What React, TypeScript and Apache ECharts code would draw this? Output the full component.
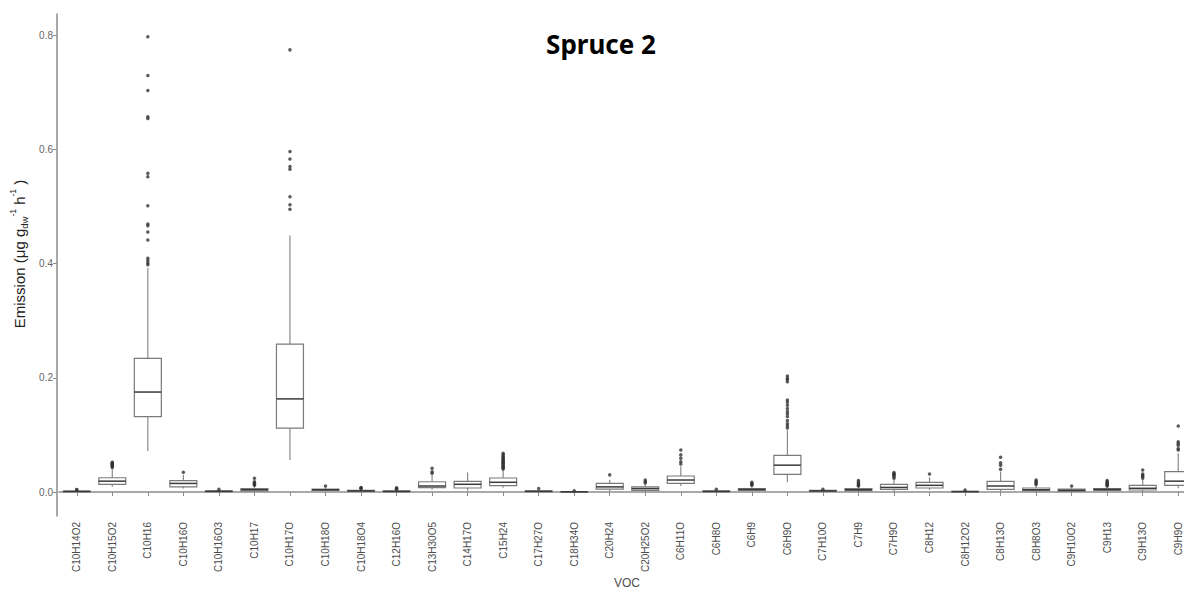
import React, { useEffect, useRef } from "react";
import * as echarts from "echarts";

const categories = [
  "C10H14O2", "C10H15O2", "C10H16", "C10H16O", "C10H16O3", "C10H17", "C10H17O", "C10H18O",
  "C10H18O4", "C12H16O", "C13H30O5", "C14H17O", "C15H24", "C17H27O", "C18H34O", "C20H24",
  "C20H25O2", "C6H11O", "C6H8O", "C6H9", "C6H9O", "C7H10O", "C7H9", "C7H9O",
  "C8H12", "C8H12O2", "C8H13O", "C8H8O3", "C9H10O2", "C9H13", "C9H13O", "C9H9O",
];

const whiskerLow = [0.0, 0.009, 0.072, 0.006, 0.0, 0.0, 0.056, 0.001, 0.0, 0.0, 0.004, 0.002, 0.0075, 0.0, 0.0, 0.001, 0.0, 0.0105, 0.0, 0.001, 0.017, 0.0, 0.0, 0.0, 0.0035, 0.0, 0.001, 0.0, 0.0, 0.001, 0.0, 0.0065];
const q1 = [0.0005, 0.0135, 0.132, 0.009, 0.0007, 0.002, 0.112, 0.003, 0.001, 0.0005, 0.0075, 0.007, 0.011, 0.0007, 0.0001, 0.005, 0.003, 0.015, 0.0005, 0.003, 0.031, 0.001, 0.0023, 0.0047, 0.007, 0.0003, 0.0047, 0.0023, 0.0017, 0.003, 0.0035, 0.0117];
const median = [0.001, 0.019, 0.175, 0.015, 0.0012, 0.004, 0.163, 0.004, 0.002, 0.001, 0.0105, 0.0135, 0.017, 0.0012, 0.0003, 0.009, 0.006, 0.021, 0.001, 0.0045, 0.047, 0.002, 0.004, 0.008, 0.0117, 0.0007, 0.0105, 0.004, 0.003, 0.0045, 0.0065, 0.019];
const q3 = [0.0015, 0.025, 0.234, 0.02, 0.002, 0.006, 0.259, 0.005, 0.003, 0.002, 0.018, 0.0187, 0.0245, 0.002, 0.0006, 0.015, 0.009, 0.028, 0.002, 0.006, 0.064, 0.003, 0.0058, 0.0135, 0.017, 0.0012, 0.0187, 0.007, 0.005, 0.0058, 0.0117, 0.0356];
const whiskerHigh = [0.003, 0.04, 0.392, 0.03, 0.0035, 0.01, 0.449, 0.008, 0.005, 0.004, 0.03, 0.034, 0.038, 0.004, 0.0012, 0.021, 0.013, 0.045, 0.003, 0.01, 0.108, 0.004, 0.009, 0.021, 0.026, 0.0025, 0.036, 0.011, 0.008, 0.009, 0.021, 0.068];

const outliers: number[][] = [
  [0.004, 0.0045],
  [0.043, 0.0445, 0.046, 0.047, 0.048, 0.049, 0.05, 0.051, 0.052],
  [0.797, 0.729, 0.703, 0.657, 0.654, 0.558, 0.552, 0.501, 0.469, 0.466, 0.455, 0.441, 0.409, 0.405, 0.401, 0.398],
  [0.0345],
  [0.005],
  [0.012, 0.013, 0.015, 0.016, 0.018, 0.024],
  [0.774, 0.596, 0.583, 0.57, 0.565, 0.517, 0.503, 0.495],
  [0.0105],
  [0.006, 0.007, 0.008],
  [0.005, 0.006, 0.0075],
  [0.033, 0.0355, 0.0415],
  [],
  [0.0405, 0.0418, 0.0436, 0.0452, 0.0471, 0.0489, 0.0503, 0.0522, 0.0538, 0.0557, 0.0574, 0.0596, 0.0612, 0.0631, 0.0655, 0.0678],
  [0.006],
  [0.002],
  [0.03],
  [0.016, 0.018, 0.021],
  [0.049, 0.053, 0.059, 0.065, 0.0735],
  [0.0047],
  [0.012, 0.0135, 0.015, 0.017],
  [0.112, 0.116, 0.12, 0.125, 0.132, 0.137, 0.141, 0.146, 0.152, 0.157, 0.161, 0.193, 0.197, 0.199, 0.203],
  [0.005],
  [0.0105, 0.012, 0.0135, 0.015, 0.0175, 0.02],
  [0.024, 0.027, 0.029, 0.031, 0.032, 0.034],
  [0.0315],
  [0.0035],
  [0.04, 0.047, 0.051, 0.061],
  [0.013, 0.015, 0.017, 0.019, 0.021],
  [0.0105],
  [0.0105, 0.012, 0.013, 0.015, 0.016, 0.018, 0.02],
  [0.024, 0.027, 0.029, 0.0315, 0.0385],
  [0.0735, 0.076, 0.082, 0.085, 0.088, 0.1155],
];

const yTicks = [0, 0.2, 0.4, 0.6, 0.8];

export default function App() {
  const ref = useRef<HTMLDivElement>(null);
  useEffect(() => {
    if (!ref.current) return;
    document.body.style.margin = "0";
    document.body.style.overflow = "hidden";
    document.documentElement.style.overflow = "hidden";
    const chart = echarts.init(ref.current, null, { renderer: "svg" });
    const boxData = categories.map((_, i) => [i, whiskerLow[i], q1[i], median[i], q3[i], whiskerHigh[i]]);
    const outlierData: number[][] = [];
    outliers.forEach((arr, i) => arr.forEach((v) => outlierData.push([i, v])));
    const axisColor = "#8c8c8c";
    const labelColor = "#4d4d4d";
    chart.setOption({
      animation: false,
      backgroundColor: "#ffffff",
      title: {
        text: "Spruce 2",
        left: 596,
        top: 26,
        textAlign: "center",
        textStyle: { fontFamily: "Noto Sans", fontWeight: "bold", fontSize: 26, color: "#000" },
      },
      graphic: [
        {
          type: "text",
          x: 627,
          y: 583,
          style: {
            text: "VOC",
            fontFamily: "Liberation Sans",
            fontSize: 12,
            fill: labelColor,
            align: "center",
            verticalAlign: "middle",
          },
        },
        {
          type: "text",
          x: 19,
          y: 254,
          rotation: Math.PI / 2,
          style: {
            text: "{a|Emission (μg g}{sub|dw}{sup|-1}{a| h}{sup|-1}{a| )}",
            align: "center",
            verticalAlign: "middle",
            fill: "#222",
            rich: {
              a: { fontFamily: "Liberation Sans", fontSize: 15, fill: "#222", lineHeight: 21 },
              sub: { fontFamily: "Liberation Sans", fontSize: 9.5, fill: "#222", verticalAlign: "bottom", lineHeight: 21 },
              sup: { fontFamily: "Liberation Sans", fontSize: 8.5, fill: "#222", verticalAlign: "top", lineHeight: 21 },
            },
          },
        },
      ],
      grid: { left: 59, right: -12, top: 14, bottom: 73, containLabel: false, outerBoundsMode: "none" },
      xAxis: {
        type: "category",
        data: categories,
        boundaryGap: true,
        axisLine: { show: true, lineStyle: { color: axisColor, width: 1.5 } },
        axisTick: { show: true, alignWithLabel: true, length: 4, lineStyle: { color: axisColor } },
        axisLabel: {
          rotate: 90,
          interval: 0,
          margin: 6,
          hideOverlap: false,
          fontFamily: "Liberation Sans",
          fontSize: 10,
          color: labelColor,
        },
        splitLine: { show: false },
      },
      yAxis: {
        type: "value",
        min: -0.042,
        max: 0.8368,
        offset: 2,
        axisLine: { show: true, lineStyle: { color: axisColor, width: 1.5 } },
        axisTick: { show: true, length: 4, lineStyle: { color: axisColor }, customValues: yTicks },
        axisLabel: {
          customValues: yTicks,
          fontFamily: "Liberation Sans",
          fontSize: 10,
          color: "#666",
          margin: 4,
          formatter: (v: number) => v.toFixed(1),
        },
        splitLine: { show: false },
      },
      series: [
        {
          type: "custom",
          data: boxData,
          encode: { x: 0, y: [1, 2, 3, 4, 5] },
          renderItem: (params: any, api: any) => {
            const xi = api.value(0);
            const pMin = api.coord([xi, api.value(1)]);
            const pQ1 = api.coord([xi, api.value(2)]);
            const pMed = api.coord([xi, api.value(3)]);
            const pQ3 = api.coord([xi, api.value(4)]);
            const pMax = api.coord([xi, api.value(5)]);
            const bw = api.size([1, 0])[0] * 0.76;
            const cx = pMed[0];
            const stroke = "#8a8a8a";
            return {
              type: "group",
              children: [
                { type: "line", shape: { x1: cx, y1: pMin[1], x2: cx, y2: pQ1[1] }, style: { stroke, lineWidth: 1.2 } },
                { type: "line", shape: { x1: cx, y1: pQ3[1], x2: cx, y2: pMax[1] }, style: { stroke, lineWidth: 1.2 } },
                {
                  type: "rect",
                  shape: { x: cx - bw / 2, y: pQ3[1], width: bw, height: Math.max(pQ1[1] - pQ3[1], 0.5) },
                  style: { fill: "#ffffff", stroke: "#7a7a7a", lineWidth: 1.2 },
                },
                { type: "line", shape: { x1: cx - bw / 2, y1: pMed[1], x2: cx + bw / 2, y2: pMed[1] }, style: { stroke: "#3a3a3a", lineWidth: 1.5 } },
              ],
            };
          },
        },
        {
          type: "scatter",
          data: outlierData,
          symbol: "circle",
          symbolSize: 3.5,
          itemStyle: { color: "#333333" },
        },
      ],
    });
    return () => chart.dispose();
  }, []);
  return <div ref={ref} style={{ width: 1184, height: 589 }} />;
}
